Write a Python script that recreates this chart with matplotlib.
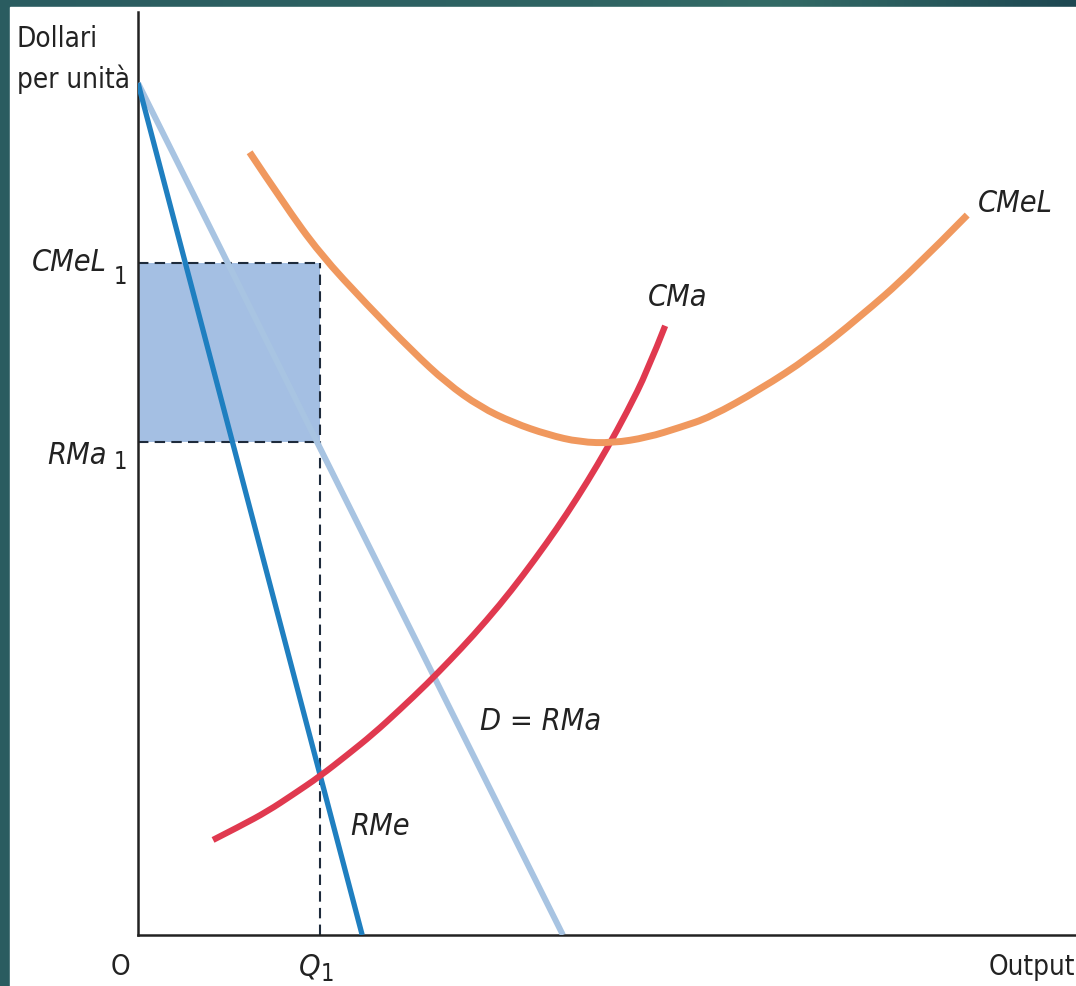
import matplotlib
matplotlib.use('Agg')
import matplotlib.pyplot as plt
from matplotlib.patches import Rectangle, PathPatch
from matplotlib.path import Path
from matplotlib.colors import LinearSegmentedColormap
import numpy as np

plt.rcParams['font.family'] = ['DejaVu Sans']
plt.rcParams['font.stretch'] = 'condensed'

# --- data (output on x, dollars per unit on y, 0..100 scale) ---
p_top = 92.3
rme_q = [0, 23.9]
rme_p = [p_top, 0]
d_q = [0, 45.3]
d_p = [p_top, 0]

cma_q = [8.0, 10.9, 13.8, 16.5, 19.4, 22.3, 25.1, 27.9, 30.8, 33.3, 35.7,
         38.6, 41.0, 43.6, 45.7, 47.9, 50.0, 52.1, 54.3, 56.2]
cma_p = [10.3, 11.8, 13.4, 15.2, 17.2, 19.5, 21.8, 24.4, 27.2, 29.8, 32.4,
         35.8, 38.9, 42.5, 45.6, 49.1, 52.7, 56.6, 61.1, 66.0]

cmel_q = [11.9, 15.5, 19.4, 24.4, 29.3, 32.9, 36.5, 40.0, 43.7, 47.1, 50.6,
          54.3, 57.8, 61.0, 66.3, 71.6, 77.0, 82.3, 88.4]
cmel_p = [84.8, 79.3, 73.8, 68.3, 63.2, 59.8, 57.2, 55.5, 54.2, 53.4, 53.3,
          53.9, 55.0, 56.1, 59.1, 62.6, 67.0, 71.7, 78.0]

q1 = 19.4
cmel1 = 72.8
rma1 = 53.4


def smooth_path(xs, ys):
    # quadratic bezier through midpoints, read points act as control points
    pts = list(zip(xs, ys))
    verts = [pts[0]]
    codes = [Path.MOVETO]
    for i in range(1, len(pts) - 1):
        mid = ((pts[i][0] + pts[i + 1][0]) / 2, (pts[i][1] + pts[i + 1][1]) / 2)
        if i == len(pts) - 2:
            mid = pts[-1]
        verts += [pts[i], mid]
        codes += [Path.CURVE3, Path.CURVE3]
    return Path(verts, codes)


# --- figure with teal frame ---
fig = plt.figure(figsize=(10.76, 9.86), dpi=100)
bg = fig.add_axes([0, 0, 1, 1])
cmap = LinearSegmentedColormap.from_list('teal', [(0, '#2a5c60'), (0.55, '#2f6463'),
                                                  (0.72, '#336b66'), (1, '#1e4852')])
bg.imshow(np.linspace(0, 1, 256)[None, :], aspect='auto', cmap=cmap,
          extent=[0, 1, 0, 1])
bg.set_xlim(0, 1)
bg.set_ylim(0, 1)
bg.add_patch(Rectangle((10 / 1076, 0), 1, (986 - 7) / 986, color='white'))
bg.axis('off')

ax = fig.add_axes([138 / 1076, (986 - 935) / 986, (1076 - 138) / 1076, (935 - 12) / 986])
ax.patch.set_alpha(0)
ax.set_xlim(0, 100)
ax.set_ylim(0, 100)
for s in ['top', 'right']:
    ax.spines[s].set_visible(False)
for s in ['left', 'bottom']:
    ax.spines[s].set_linewidth(1.8)
    ax.spines[s].set_color('#222222')
ax.set_xticks([])
ax.set_yticks([])

# shaded rectangle between CMeL1 and RMa1
ax.add_patch(Rectangle((0, rma1), q1, cmel1 - rma1, facecolor='#a4bfe3',
                       edgecolor='none', zorder=1))
dash = dict(color='#1e2b3c', linewidth=1.5, dashes=(5, 3), zorder=2)
ax.plot([0, q1], [cmel1, cmel1], **dash)
ax.plot([0, q1], [rma1, rma1], **dash)
ax.plot([q1, q1], [0, cmel1], **dash)

ax.plot(d_q, d_p, color='#a8c4e2', linewidth=4.3, solid_capstyle='butt', zorder=3)
ax.plot(rme_q, rme_p, color='#1f7fc0', linewidth=3.8, solid_capstyle='butt', zorder=4)
ax.add_patch(PathPatch(smooth_path(cma_q, cma_p), facecolor='none', edgecolor='#e0394f',
                       linewidth=4.5, capstyle='butt', joinstyle='round', zorder=5))
ax.add_patch(PathPatch(smooth_path(cmel_q, cmel_p), facecolor='none', edgecolor='#f0985e',
                       linewidth=5, capstyle='butt', joinstyle='round', zorder=6))

# labels
ink = '#222222'
it = dict(fontsize=22, style='italic', color=ink, va='center', clip_on=False)
up = dict(fontsize=20, color=ink, va='center', clip_on=False)
sub = dict(fontsize=17, color=ink, va='center', ha='left', clip_on=False)
ax.text(89.5, 79.3, 'CMeL', ha='left', **it)
ax.text(54.4, 69.1, 'CMa', ha='left', **it)
ax.text(36.5, 23.1, 'D = RMa', ha='left', **it)
ax.text(22.6, 11.8, 'RMe', ha='left', **it)
ax.text(-3.3, 72.9, 'CMeL', ha='right', **it)
ax.text(-2.6, 71.3, '1', **sub)
ax.text(-3.3, 52.0, 'RMa', ha='right', **it)
ax.text(-2.6, 51.2, '1', **sub)
ax.text(-1.9, -3.5, 'O', ha='center', **up)
ax.text(18.3, -3.5, 'Q', ha='center', **it)
ax.text(19.5, -4.2, '1', **sub)
ax.text(99.9, -3.5, 'Output', ha='right', **up)
ax.text(-12.9, 98.6, 'Dollari\nper unità', ha='left', va='top', fontsize=20,
        color=ink, linespacing=1.5, clip_on=False)

plt.savefig('out.png', dpi=100)
